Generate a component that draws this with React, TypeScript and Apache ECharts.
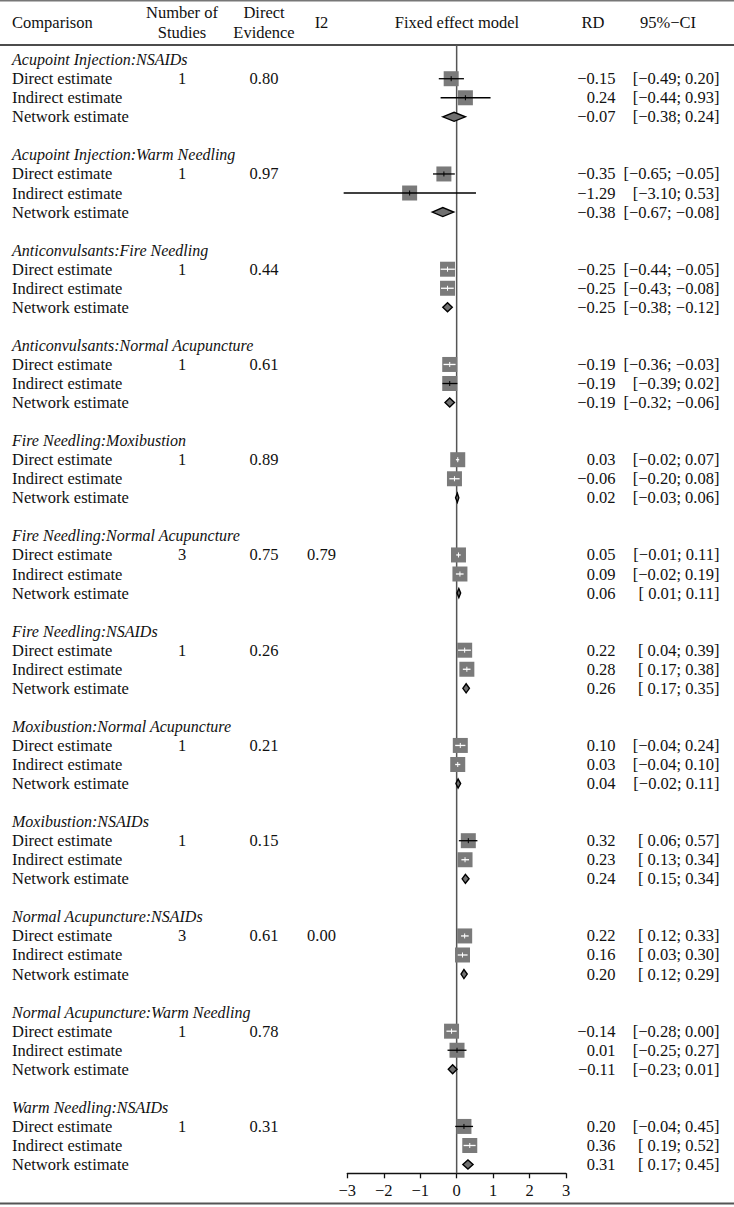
import React, { useEffect, useRef } from "react";
import * as echarts from "echarts";

const comparisons = [
  "Acupoint Injection:NSAIDs",
  "Acupoint Injection:Warm Needling",
  "Anticonvulsants:Fire Needling",
  "Anticonvulsants:Normal Acupuncture",
  "Fire Needling:Moxibustion",
  "Fire Needling:Normal Acupuncture",
  "Fire Needling:NSAIDs",
  "Moxibustion:Normal Acupuncture",
  "Moxibustion:NSAIDs",
  "Normal Acupuncture:NSAIDs",
  "Normal Acupuncture:Warm Needling",
  "Warm Needling:NSAIDs",
];
const studies = ["1", "1", "1", "1", "1", "3", "1", "1", "1", "3", "1", "1"];
const directEvidence = ["0.80", "0.97", "0.44", "0.61", "0.89", "0.75", "0.26", "0.21", "0.15", "0.61", "0.78", "0.31"];
const i2 = ["", "", "", "", "", "0.79", "", "", "", "0.00", "", ""];
const estimateLabels = ["Direct estimate", "Indirect estimate", "Network estimate"];

// [direct, indirect, network]
const rd = [
  [-0.15, 0.24, -0.07],
  [-0.35, -1.29, -0.38],
  [-0.25, -0.25, -0.25],
  [-0.19, -0.19, -0.19],
  [0.03, -0.06, 0.02],
  [0.05, 0.09, 0.06],
  [0.22, 0.28, 0.26],
  [0.1, 0.03, 0.04],
  [0.32, 0.23, 0.24],
  [0.22, 0.16, 0.2],
  [-0.14, 0.01, -0.11],
  [0.2, 0.36, 0.31],
];
const lower = [
  [-0.49, -0.44, -0.38],
  [-0.65, -3.1, -0.67],
  [-0.44, -0.43, -0.38],
  [-0.36, -0.39, -0.32],
  [-0.02, -0.2, -0.03],
  [-0.01, -0.02, 0.01],
  [0.04, 0.17, 0.17],
  [-0.04, -0.04, -0.02],
  [0.06, 0.13, 0.15],
  [0.12, 0.03, 0.12],
  [-0.28, -0.25, -0.23],
  [-0.04, 0.19, 0.17],
];
const upper = [
  [0.2, 0.93, 0.24],
  [-0.05, 0.53, -0.08],
  [-0.05, -0.08, -0.12],
  [-0.03, 0.02, -0.06],
  [0.07, 0.08, 0.06],
  [0.11, 0.19, 0.11],
  [0.39, 0.38, 0.35],
  [0.24, 0.1, 0.11],
  [0.57, 0.34, 0.34],
  [0.33, 0.3, 0.29],
  [0.0, 0.27, 0.01],
  [0.45, 0.52, 0.45],
];
const xTicks = [-3, -2, -1, 0, 1, 2, 3];

const FONT = "'Liberation Serif', 'Times New Roman', serif";
const FS = 16.5;
const FS_IT = 16;
const TXT = "#111";

function fmt(v: number) {
  return v.toFixed(2).replace("-", "\u2212");
}
function fmtCI(lo: number, hi: number) {
  const l = lo < 0 ? fmt(lo) : " " + fmt(lo);
  return "[" + l + "; " + fmt(hi) + "]";
}

type Row = { row: number; g: number; k: number };
const rows: Row[] = [];
comparisons.forEach((_, g) => {
  rows.push({ row: g * 5, g, k: -1 });
  for (let k = 0; k < 3; k++) rows.push({ row: g * 5 + k + 1, g, k });
});

const markData: number[][] = [];
comparisons.forEach((_, g) => {
  for (let k = 0; k < 3; k++) {
    markData.push([rd[g][k], g * 5 + k + 1, lower[g][k], upper[g][k], k]);
  }
});

const Y_MIN = -0.77;
const Y_MAX = 58.46;

function txt(text: string, x: number, y: number, align: string, italic = false) {
  return {
    type: "text",
    x,
    y,
    style: {
      text,
      font: (italic ? "italic " + FS_IT : FS) + "px " + FONT,
      fill: TXT,
      textAlign: align,
      align,
      textVerticalAlign: "middle",
      verticalAlign: "middle",
    },
  };
}

export default function App() {
  const ref = useRef<HTMLDivElement>(null);
  useEffect(() => {
    if (!ref.current) return;
    const chart = echarts.init(ref.current, null, { renderer: "svg" });
    const option: any = {
      animation: false,
      backgroundColor: "#fff",
      grid: { left: 347.3, width: 218.7, top: 45, bottom: 1207 - 1173.3, containLabel: false },
      xAxis: {
        type: "value",
        min: xTicks[0],
        max: xTicks[xTicks.length - 1],
        interval: 1,
        axisLine: { show: true, onZero: false, lineStyle: { color: "#111", width: 1.3 } },
        axisTick: { show: true, inside: false, length: 5, lineStyle: { color: "#111", width: 1.3 } },
        axisLabel: {
          show: true,
          margin: 9,
          fontFamily: FONT,
          fontSize: FS,
          color: TXT,
          formatter: (v: number) => String(v).replace("-", "\u2212"),
        },
        splitLine: { show: false },
      },
      yAxis: { type: "value", inverse: true, min: Y_MIN, max: Y_MAX, show: false, splitLine: { show: false } },
      graphic: [
        { type: "line", shape: { x1: 0, y1: 0.8, x2: 734, y2: 0.8 }, style: { stroke: "#777", lineWidth: 1.5 } },
        { type: "line", shape: { x1: 0, y1: 45, x2: 734, y2: 45 }, style: { stroke: "#111", lineWidth: 1.5 } },
        { type: "line", shape: { x1: 0, y1: 1203.5, x2: 734, y2: 1203.5 }, style: { stroke: "#555", lineWidth: 2 } },
        txt("Comparison", 12, 22.7, "left"),
        txt("Number of", 182, 12.7, "center"),
        txt("Studies", 182, 32.3, "center"),
        txt("Direct", 264, 12.7, "center"),
        txt("Evidence", 264, 32.3, "center"),
        txt("I2", 321.5, 22.7, "center"),
        txt("Fixed effect model", 457, 22.7, "center"),
        txt("RD", 593, 22.7, "center"),
        txt("95%\u2212CI", 668, 22.7, "center"),
      ],
      series: [
        {
          type: "line",
          data: [
            [0, Y_MIN],
            [0, Y_MAX],
          ],
          symbol: "none",
          lineStyle: { color: "#555", width: 1.5 },
          silent: true,
          z: 1,
        },
        {
          type: "custom",
          z: 5,
          data: markData,
          renderItem: (params: any, api: any) => {
            const est = api.value(0);
            const row = api.value(1);
            const lo = api.value(2);
            const hi = api.value(3);
            const kind = api.value(4);
            const c = api.coord([est, row]);
            const cl = api.coord([lo, row]);
            const ch = api.coord([hi, row]);
            if (kind === 2) {
              const h = 4.5;
              return {
                type: "polygon",
                shape: {
                  points: [
                    [cl[0], c[1]],
                    [c[0], c[1] - h],
                    [ch[0], c[1]],
                    [c[0], c[1] + h],
                  ],
                },
                style: { fill: "#707070", stroke: "#000", lineWidth: 1.4 },
              };
            }
            const s = 15;
            const inside = cl[0] >= c[0] - s / 2 && ch[0] <= c[0] + s / 2;
            const col = inside ? "#fff" : "#000";
            return {
              type: "group",
              children: [
                { type: "rect", shape: { x: c[0] - s / 2, y: c[1] - s / 2, width: s, height: s }, style: { fill: "#7a7a7a" } },
                { type: "line", shape: { x1: cl[0], y1: c[1], x2: ch[0], y2: c[1] }, style: { stroke: col, lineWidth: 1.3 } },
                { type: "line", shape: { x1: c[0], y1: c[1] - 2.5, x2: c[0], y2: c[1] + 2.5 }, style: { stroke: col, lineWidth: 1 } },
              ],
            };
          },
        },
        {
          type: "custom",
          z: 6,
          silent: true,
          data: rows.map((r) => [0, r.row]),
          renderItem: (params: any, api: any) => {
            const r = rows[params.dataIndex];
            const y = api.coord([0, api.value(1)])[1];
            if (r.k === -1) {
              return { type: "group", children: [txt(comparisons[r.g], 12, y, "left", true)] };
            }
            const children: any[] = [txt(estimateLabels[r.k], 12, y, "left")];
            if (r.k === 0) {
              children.push(txt(studies[r.g], 182, y, "center"));
              children.push(txt(directEvidence[r.g], 264, y, "center"));
              if (i2[r.g]) children.push(txt(i2[r.g], 321.5, y, "center"));
            }
            children.push(txt(fmt(rd[r.g][r.k]), 615.5, y, "right"));
            children.push(txt(fmtCI(lower[r.g][r.k], upper[r.g][r.k]), 719.5, y, "right"));
            return { type: "group", children };
          },
        },
      ],
    };
    chart.setOption(option);
    return () => chart.dispose();
  }, []);
  return <div ref={ref} style={{ position: "fixed", left: 0, top: 0, width: 734, height: 1207 }} />;
}
